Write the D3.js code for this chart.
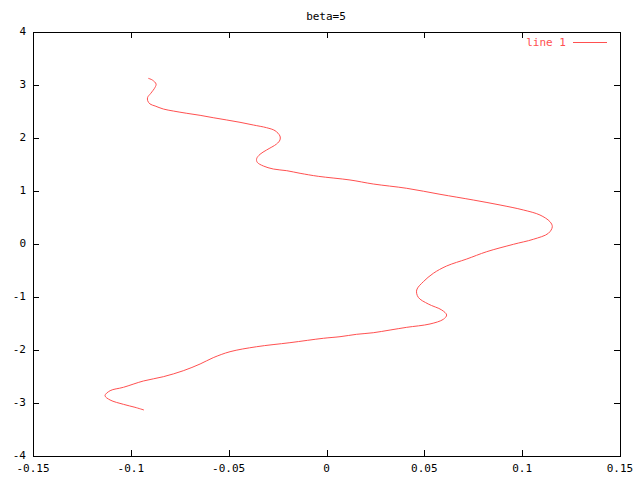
<!DOCTYPE html>
<html>
<head>
<meta charset="utf-8">
<script src="https://cdn.jsdelivr.net/npm/d3@7"></script>
<style>
html,body{margin:0;padding:0;background:#fff;}
svg text{font-family:"DejaVu Sans Mono",monospace;font-size:11px;fill:#000;}
</style>
</head>
<body>
<svg id="chart" width="640" height="480"></svg>
<script>
const title = "beta=5";
const legendLabel = "line 1";
const xTicks = [-0.15, -0.1, -0.05, 0, 0.05, 0.1, 0.15];
const xTickLabels = ["-0.15", "-0.1", "-0.05", "0", "0.05", "0.1", "0.15"];
const yTicks = [-4, -3, -2, -1, 0, 1, 2, 3, 4];
const yTickLabels = ["-4", "-3", "-2", "-1", "0", "1", "2", "3", "4"];
const xs = [-0.0911,-0.0890,-0.0871,-0.0876,-0.0898,-0.0914,-0.0914,-0.0902,-0.0876,-0.0834,
 -0.0783,-0.0714,-0.0646,-0.0579,-0.0510,-0.0442,-0.0374,-0.0306,-0.0263,-0.0238,
 -0.0238,-0.0255,-0.0306,-0.0340,-0.0357,-0.0354,-0.0323,-0.0272,-0.0203,-0.0135,
 -0.0042,0.0120,0.0239,0.0410,0.0580,0.0750,0.0887,0.1006,0.1091,0.1142,
 0.1154,0.1134,0.1057,0.0955,0.0819,0.0717,0.0614,0.0546,0.0495,0.0461,
 0.0469,0.0520,0.0589,0.0614,0.0597,0.0529,0.0410,0.0325,0.0239,0.0154,
 0.0069,-0.0016,-0.0187,-0.0357,-0.0493,-0.0579,-0.0646,-0.0732,-0.0834,-0.0936,
 -0.1038,-0.1106,-0.1132,-0.1106,-0.1038,-0.0979,-0.0933];
const ys = [3.126,3.094,3.019,2.957,2.843,2.768,2.704,2.642,2.604,2.547,
 2.509,2.466,2.428,2.383,2.340,2.296,2.245,2.194,2.138,2.038,
 1.962,1.887,1.774,1.692,1.609,1.542,1.472,1.415,1.383,1.334,
 1.277,1.208,1.132,1.051,0.938,0.830,0.736,0.642,0.547,0.421,
 0.326,0.202,0.089,-0.006,-0.145,-0.283,-0.415,-0.553,-0.711,-0.868,
 -1.006,-1.132,-1.245,-1.340,-1.421,-1.509,-1.572,-1.623,-1.674,-1.704,
 -1.749,-1.779,-1.862,-1.938,-2.032,-2.145,-2.264,-2.391,-2.504,-2.585,
 -2.704,-2.768,-2.862,-2.943,-3.025,-3.081,-3.132];

(function () {
const mLeft = 33, mRight = 620, mTop = 32, mBottom = 456;
const svg = d3.select("#chart");
const x = d3.scaleLinear().domain([-0.15, 0.15]).range([mLeft, mRight]);
const y = d3.scaleLinear().domain([-4, 4]).range([mBottom, mTop]);
const tl = 6;
const lineColor = "#ff5050";

const g = svg.append("g").attr("stroke", "#000").attr("stroke-width", 1).attr("shape-rendering", "crispEdges");
xTicks.forEach(t => {
  const px = Math.round(x(t)) + 0.5;
  g.append("line").attr("x1", px).attr("x2", px).attr("y1", mBottom).attr("y2", mBottom - tl);
  g.append("line").attr("x1", px).attr("x2", px).attr("y1", mTop).attr("y2", mTop + tl);
});
yTicks.forEach(t => {
  const py = Math.round(y(t)) + 0.5;
  g.append("line").attr("x1", mLeft).attr("x2", mLeft + tl).attr("y1", py).attr("y2", py);
  g.append("line").attr("x1", mRight).attr("x2", mRight - tl).attr("y1", py).attr("y2", py);
});
g.append("rect").attr("x", mLeft + 0.5).attr("y", mTop + 0.5)
  .attr("width", mRight - mLeft).attr("height", mBottom - mTop).attr("fill", "none");

xTicks.forEach((t, i) => {
  svg.append("text").attr("x", x(t)).attr("y", mBottom + 16).attr("text-anchor", "middle").text(xTickLabels[i]);
});
yTicks.forEach((t, i) => {
  svg.append("text").attr("x", 26).attr("y", y(t) + 3).attr("text-anchor", "end").text(yTickLabels[i]);
});

svg.append("text").attr("x", 326).attr("y", 20).attr("text-anchor", "middle").text(title);

svg.append("text").attr("x", 566).attr("y", 46).attr("text-anchor", "end").attr("style", "fill:" + lineColor).text(legendLabel);
svg.append("line").attr("x1", 573).attr("x2", 607).attr("y1", 42.5).attr("y2", 42.5)
  .attr("stroke", lineColor).attr("stroke-width", 1);

const pts = xs.map((v, i) => [v, ys[i]]);
const line = d3.line().x(d => x(d[0])).y(d => y(d[1])).curve(d3.curveCatmullRom.alpha(0.5));
svg.append("path").datum(pts).attr("d", line).attr("fill", "none")
  .attr("stroke", lineColor).attr("stroke-width", 1);
})();
</script>
</body>
</html>
